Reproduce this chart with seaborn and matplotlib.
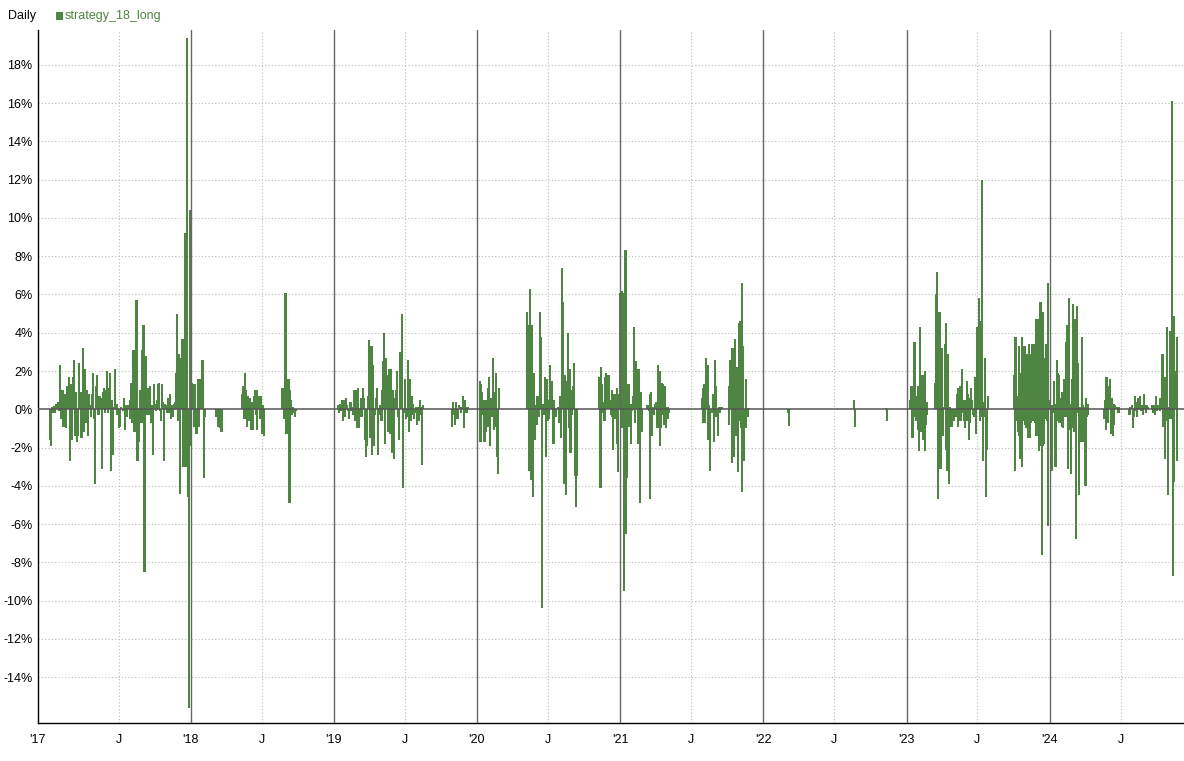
import numpy as np
import pandas as pd
import matplotlib
matplotlib.use('Agg')
import matplotlib.pyplot as plt
import matplotlib.dates as mdates
from matplotlib.patches import Rectangle
import seaborn as sns

# Daily returns (%) of strategy_18_long.
# Each block is a run of active trading days between a first and a last date.
ret_2017a = [-1.6, -1.9, 0.1, -0.2, 0.15, -0.2, 0.3, 0.1, 0.4, -0.1, 2.3, -0.5, 1.0, -0.9, 0.8, -1.0,
             1.2, 0.8, 1.7, -2.7, 1.3, -1.6, 1.7, 2.6, -1.4, 0.9, -1.7, -1.4, 2.4, 0.9, -1.5, 3.2,
             -1.2, 2.1, -0.7, 1.0, -1.4, 0.8, 0.2, -0.4, 0.8, 1.9, -0.5, -3.9, 1.2, 1.8, -0.3, 0.7,
             0.6, -3.1, 0.9, 1.1, -0.2, 1.0, 2.0, -0.2, 1.1, 1.9, -3.2, 0.5, -2.4, 0.1, 2.1, 0.3,
             -0.3, -1.0, -0.9, 0.1]
ret_2017b = [-0.1, 0.6, -1.1, 0.2, -0.4, 0.2, 0.1, -0.5, 0.5, 1.4, -0.7, 3.1, -1.2, 1.3, 5.7, -2.7,
             -1.7, -0.3, 1.0, -0.7, 3.1, 4.4, -8.5, -1.5, 2.8, -0.3, 1.1, -0.3, 1.2, -0.7, 0.2, -2.4,
             1.3, 0.3, -0.1, 0.5, 1.3, 1.4, -0.1, -0.6, 1.3, 0.4, -2.7, 0.3, 0.2, -0.2, 0.6, -0.2,
             0.8, -0.5, 0.2, -0.4, 0.3, 0.4, 1.9, 5.0, -0.6, 2.9, -4.4, 2.7, 3.7, -3.0]
ret_2017c = [3.7, -3.0, 9.2, -3.0, 19.4, -4.6, -15.6, 10.4, -1.9]
ret_2018a = [1.4, 1.3, -0.9, 1.3, -1.3, 1.6, -0.9, 1.6, 1.4, 2.6, -3.6, -0.4]
ret_2018b = [-0.4, -0.9, -1.0, -1.2]
ret_2018c = [0.8, 1.2, -0.5, 1.9, 1.0, -0.5, -0.9, 0.7, -0.6, 0.6, -1.1, 0.4, -0.3, -1.1, 0.7, 1.0,
             -0.3, 1.0, -1.1, 0.7, 0.7, -0.5, 0.7, -0.3, -1.3, 0.2, -1.4]
ret_2018d = [1.1, 1.1, -0.5, 6.1, -1.3, 0.6, 1.6, -4.9, 1.0, 0.5, -0.3, 0.1, -0.2, -0.4, -0.1]
ret_2019a = [0.25, -0.2, 0.3, -0.1, 0.1, 0.5, -0.6, 0.5, -0.4, 0.6, 0.2, -0.1, -0.5, 0.1, 0.4, -0.1,
             0.1, -0.3, 1.0, -0.6, 1.0, -1.0, 1.1, -1.0, -0.1, -0.4, 0.6, -0.4, 1.1, 0.6, -1.6, -2.5,
             -1.9, 0.7, 3.6, -1.5, 2.0, 3.3, -2.4, 2.3, -1.9, -0.3, 0.6, 1.1, -2.4, 0.05, 0.2, -0.3,
             -0.6, 1.0, 2.5, 4.0, -1.8, 2.7, 1.8, -1.2, 2.1, -1.3, 2.1, -1.0, -2.3, 1.0, -2.6, 0.6,
             1.0, 2.0, -0.4, -1.6, 2.0, 3.0, 2.6, 5.0, -4.1, -0.2, 1.6, -0.5, -0.4, 2.6, -1.2, 1.6,
             -0.6, -0.3, 0.7, 0.3, -0.5, -0.2, 0.1, -0.8, 0.1, -0.6, 0.5, 0.1, -0.3, -2.9, 0.2]
ret_2019b = [-0.9, 0.4, -0.3, -0.8, 0.4, -0.5, 0.2, 0.1, -0.2, 0.1, 0.7, -1.0, 0.5, -0.2, 0.1]
ret_2020a = [1.5, -1.7, 1.3, 0.9, -0.3, 0.5, -1.7, 0.5, -1.2, 0.5, 1.1, -0.9, 1.7, -1.9, 0.6, -0.4,
             0.6, 2.7, -1.1, 0.9, 1.9, -0.9, -2.5, -3.4, 1.1]
ret_2020b = [5.1, 4.4, -3.2, 6.3, -1.6, -3.7, 4.4, -4.6, 1.9, -1.6, 0.2, -0.8, 0.7, 0.7, -0.4, 5.1,
             3.8, -10.4, 0.3, 0.3, -0.3, 1.7, -2.5, 1.6, -0.6, 0.5, -0.5, 2.3, 0.4, 1.5, -0.8, -1.8,
             0.5, -0.4, -0.4, 0.05, 0.1, -0.1, -0.7, 0.7, -1.5, 7.4, 5.6, -3.9, 1.8, 1.5, -4.5, 1.4,
             4.0, -1.0, 2.1, -2.3, 1.0, -0.3, 1.2, 2.4, -3.5, -5.1, -3.5]
ret_2020c = [1.7, 1.7, -4.1, 2.2, 1.3, -0.2, 0.4, -0.6, 1.7, 1.9, 1.1, 0.6, 1.8, 1.0, 0.5, -0.3,
             1.0, -0.4, -2.1, 0.8, -0.5, 0.8, -1.8, 1.1, -3.3, 0.8, 6.1, 4.5, -1.0, 6.2, 6.1, -9.5,
             3.5, 8.3, -6.5, -3.6]
ret_2021a = [0.6, 1.3, -0.9, 0.3, -1.8, 0.3, -0.1, 0.7, 4.3, 2.5, -0.7, 2.5, 2.1, 2.1, -1.8, 2.1,
             -1.7, -4.9, 0.9, -1.2]
ret_2021b = [0.2, 0.2, -0.1, 0.8, -4.7, 0.9, -1.4, 0.1, 0.1, -0.3, 0.2, 0.3, 0.4, -0.3, -1.0, 2.3,
             2.0, 2.0, -1.9, -1.0, 1.4, -0.3, 1.3, -0.8, 1.2, 1.1, -1.0, 0.1, -0.5, 0.1, -0.2]
ret_2021c = [0.6, -0.7, 1.1, 1.3, -0.7, 2.7, 0.2, 2.3, -1.6, 0.2, -3.2, -0.1, -0.1, -0.2, 0.8, -1.7,
             2.6, -0.4, 1.2, -0.4, -1.4, 0.1, -0.2, -0.1, 0.1, 0.1]
ret_2021d = [1.2, -0.8, 2.6, 2.6, -2.8, 3.2, 2.3, -2.5, 3.7, 2.2, -1.4, 2.2, -3.3, -0.6, 4.5, 4.6,
             -1.0, 6.6, -4.3, 3.3, -2.7, -1.0, -1.0, 1.6, -0.3, -0.4, 0.05]
ret_2022a = [-0.2, -0.85]
ret_2022b = [0.5, -0.9]
ret_2022c = [0.05, -0.6]
ret_2023a = [0.5, 1.2, 1.2, -1.5, 1.2, 2.0, 3.5, -0.4, 0.7, -0.6, 0.7, -1.1, 1.2, -2.2, 4.3, -1.2,
             1.8, -0.6, 1.8, -1.6, 1.1, 2.0, -2.2, -0.8, 0.4, -0.3]
ret_2023b = [1.4, 6.0, 6.0, 7.2, -4.7, 5.1, -3.1, 5.1, -3.1, 3.2, -1.4, -1.2, 0.1, 3.4, -2.1, 4.5,
             -3.2, 2.9, -3.9, -0.2, 0.1, -0.9, -0.9, -0.1, -0.2, -0.6, -0.4, -0.2, -0.4, 0.8, -0.9,
             1.1, -0.6, 1.2, -0.6, 1.2, 2.1, -0.2, -0.6, 0.5, -1.0, 0.5, 1.5, -0.6, 0.8, -1.6, 0.6,
             -0.7, 1.1, 0.5, -0.3, -0.3, -0.4, 1.7, -1.3, -1.2, 4.3, 4.3, 5.8, 3.4, -0.6, 4.6, -0.4,
             12.0, -2.7, 0.4, -0.4, 2.7, -4.6, -2.1, 0.7]
ret_2023c = [1.8, -3.2, 3.8, 0.7, -0.6, 0.7, -1.2, 0.7, -1.4, 3.3, 1.8, -2.6, 1.9, 3.8, -3.0, -0.6,
             0.1, 1.9, 3.3, -0.8, 2.4, -1.0, 2.9, -0.9, 2.9, -1.5, 3.4, -1.5, 2.9, -0.7, 2.9, -0.6,
             3.4, -0.6, 3.4, -0.5, 1.5, -0.7, 4.7, -1.4, 4.7, -1.4, 4.7, -2.2, 2.9, -1.9, 5.6, -1.7,
             5.1, -7.6, 5.1, -1.9, 2.7, -1.8, 2.7, -0.5, 3.4, 3.4, -0.6, 6.6, -6.1]
ret_2024a = [0.4, 0.5, -3.2, 0.2, -3.2, 0.2, -0.2, 1.5, -0.2, -0.3, -3.0, 0.3, -0.2, 2.6, 1.9, -0.6,
             1.8, -0.7, 0.6, -0.6, 0.6, -0.9, 0.9, -1.0, 1.6, -0.3, 1.6, -0.4, 3.5, -0.3, 4.4, 4.4,
             -3.1, 5.8, -1.1, 0.3, -1.0, -3.4, 1.6, -1.0, 5.5, 2.5, -1.2, 4.4, 4.7, -6.8, 5.4, 2.9,
             -0.2, 2.4, -4.5, 0.1, -1.1, -1.4, -1.7, 3.8, -1.7, 0.2, -1.2, 0.1, -1.1, -4.0, 0.6,
             -0.4, 0.2, -0.3, 0.3]
ret_2024b = [-0.5, 0.5, -1.1, 1.7, 0.6, -0.7, 0.1, 1.2, 1.6, -1.3, -0.3, 0.6, -1.4, 0.3, -0.8, 0.2,
             0.1, 0.1, 0.1, -0.2, 0.1, -0.2]
ret_2024c = [-0.3, 0.1, 0.1, 0.2, -1.0, -0.4, 0.7, -0.1, 0.4, -0.4, 0.6, 0.6, 0.7, -0.1, 0.1, 0.2,
             -0.3, 0.8, 0.2, -0.2, 0.2, 0.1]
ret_2024d = [0.2, -0.2, 0.2, 0.2, -0.3, 0.7, 0.1, -0.1, 0.2, 0.2, 0.6, -0.1, 0.6, 2.9, -0.9, 2.9,
             -0.9, -2.6, 1.7, -0.6, 4.3, -4.5, -0.5, 0.1, 4.1, -0.5, 4.1, 16.1, -8.7, 4.9, -3.8, 2.0,
             2.0, 3.8, -2.7]

block_first = ['2017-01-06', '2017-07-11', '2017-12-13', '2018-01-03', '2018-03-06', '2018-05-12',
               '2018-08-23', '2019-01-11', '2019-10-29', '2020-01-08', '2020-05-08', '2020-11-07',
               '2021-01-20', '2021-03-11', '2021-07-28', '2021-10-04', '2022-03-05', '2022-08-19',
               '2022-11-09', '2023-01-11', '2023-03-15', '2023-10-03', '2024-01-01', '2024-05-20',
               '2024-07-23', '2024-09-19']
block_last = ['2017-07-06', '2017-12-12', '2017-12-31', '2018-02-06', '2018-03-20', '2018-07-07',
              '2018-09-27', '2019-08-17', '2019-12-08', '2020-02-26', '2020-09-11', '2021-01-18',
              '2021-02-24', '2021-05-05', '2021-09-17', '2021-11-24', '2022-03-08', '2022-08-22',
              '2022-11-12', '2023-02-23', '2023-07-27', '2023-12-29', '2024-04-09', '2024-06-27',
              '2024-09-07', '2024-11-22']
block_returns = [ret_2017a, ret_2017b, ret_2017c, ret_2018a, ret_2018b, ret_2018c, ret_2018d,
                 ret_2019a, ret_2019b, ret_2020a, ret_2020b, ret_2020c, ret_2021a, ret_2021b,
                 ret_2021c, ret_2021d, ret_2022a, ret_2022b, ret_2022c, ret_2023a, ret_2023b,
                 ret_2023c, ret_2024a, ret_2024b, ret_2024c, ret_2024d]

years = list(range(2018, 2025))
green = '#4f8542'
bar_days = 5.5

# Build the table: days of each block spread between its first and last date
frames = []
for first, last, vals in zip(block_first, block_last, block_returns):
    days = pd.date_range(first, last, periods=len(vals))
    frames.append(pd.DataFrame({'date': days, 'ret': vals}))
data = pd.concat(frames, ignore_index=True)
data['x'] = mdates.date2num(data['date'])

sns.set_style('white')
plt.rcParams['font.family'] = ['Liberation Sans', 'DejaVu Sans']

fig = plt.figure(figsize=(11.84, 7.61), dpi=100)
ax = fig.add_axes([38 / 1184, 1 - 723 / 761, 1 - 38 / 1184, (723 - 30) / 761])

sns.barplot(data=data, x='x', y='ret', native_scale=True, orient='x',
            color=green, saturation=1, errorbar=None, linewidth=0, ax=ax, zorder=2)
# widen every bar to a fixed number of days around its centre
for bar in ax.patches:
    centre = bar.get_x() + bar.get_width() / 2
    bar.set_width(bar_days)
    bar.set_x(centre - bar_days / 2)

x0 = mdates.date2num(pd.Timestamp('2016-12-07'))
x1 = mdates.date2num(pd.Timestamp('2024-12-09'))
ax.set_xlim(x0, x1)
ax.set_ylim(-16.39, 19.82)

# grid: dotted at each 2% and each July, solid at each new year
yticks = list(range(-14, 19, 2))
for y in yticks:
    if y != 0:
        ax.axhline(y, color='#bbbbbb', lw=0.8, ls=(0, (1, 2)), zorder=1)
for yr in range(2017, 2025):
    ax.axvline(mdates.date2num(pd.Timestamp(f'{yr}-07-01')), color='#bbbbbb', lw=0.8,
               ls=(0, (1, 2)), zorder=1)
for yr in years:
    ax.axvline(mdates.date2num(pd.Timestamp(f'{yr}-01-01')), color='#666666', lw=1, zorder=3)
ax.axhline(0, color='#555555', lw=1.1, zorder=3)

xticks = [x0]
xlabels = ["'17"]
for yr in range(2017, 2025):
    if yr > 2017:
        xticks.append(mdates.date2num(pd.Timestamp(f'{yr}-01-01')))
        xlabels.append("'" + str(yr)[2:])
    xticks.append(mdates.date2num(pd.Timestamp(f'{yr}-07-01')))
    xlabels.append('J')
ax.set_xticks(xticks)
ax.set_xticklabels(xlabels)
ax.set_yticks(yticks)
ax.set_yticklabels([f'{y}%' for y in yticks])
ax.set_xlabel('')
ax.set_ylabel('')
ax.tick_params(axis='x', length=5, width=1, color='black', pad=3, labelsize=9, colors='black')
ax.tick_params(axis='y', length=0, pad=4, labelsize=9, colors='black')

for side in ['top', 'right']:
    ax.spines[side].set_visible(False)
for side in ['left', 'bottom']:
    ax.spines[side].set_color('black')
    ax.spines[side].set_linewidth(1)

# header: title and legend key
fig.text(8 / 1184, 1 - 16 / 761, 'Daily', fontsize=9, va='center', ha='left', color='black')
fig.add_artist(Rectangle((56 / 1184, 1 - 19.5 / 761), 7 / 1184, 7 / 761,
                         transform=fig.transFigure, color=green, lw=0))
fig.text(65 / 1184, 1 - 16 / 761, 'strategy_18_long', fontsize=9, va='center', ha='left', color=green)

fig.savefig('out.png', dpi=100)
